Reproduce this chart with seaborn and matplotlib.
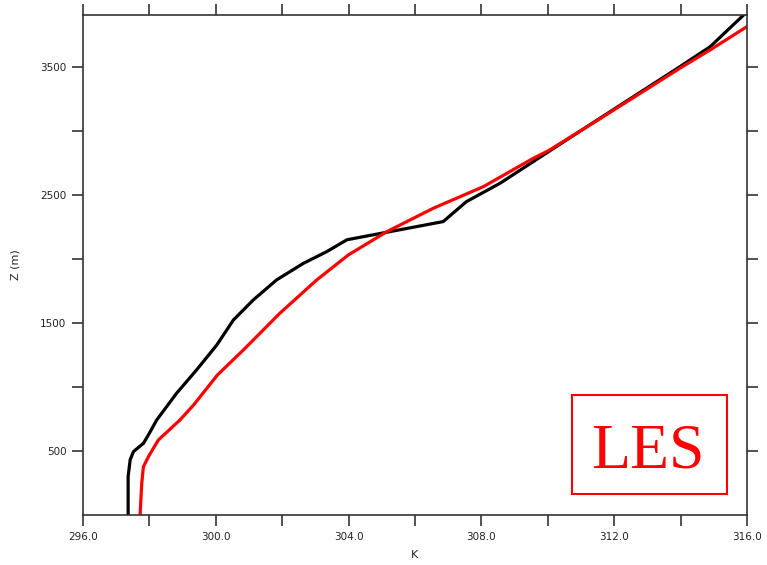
import matplotlib
matplotlib.use('Agg')
import matplotlib.pyplot as plt
import seaborn as sns
from matplotlib.patches import Rectangle

# Profiles (height in m, temperature in K)
z_black = [0, 300, 430, 495, 560, 625, 742, 951, 1133, 1328, 1523, 1680, 1836,
           1966, 2057, 2150, 2292, 2448, 2591, 2760, 2838, 3099, 3502, 3658,
           3906]
t_black = [297.36, 297.36, 297.42, 297.52, 297.82, 297.97, 298.22, 298.82,
           299.42, 300.03, 300.53, 301.13, 301.83, 302.64, 303.34, 303.95,
           306.85, 307.55, 308.56, 309.56, 310.02, 311.57, 313.98, 314.89,
           315.9]

z_red = [0, 248, 377, 455, 521, 586, 742, 859, 1094, 1289, 1576, 1836,
         2031, 2213, 2396, 2565, 2786, 2846, 3095, 3490, 3633, 3815]
t_red = [297.72, 297.77, 297.82, 297.97, 298.12, 298.27, 298.92, 299.33,
         300.05, 300.83, 301.93, 303.04, 303.99, 305.15, 306.55,
         308.06, 309.56, 310.02, 311.57, 313.98, 314.89, 316.0]

x_ticks = [296, 298, 300, 302, 304, 306, 308, 310, 312, 314, 316]
x_labels = ['296.0', '', '300.0', '', '304.0', '', '308.0', '', '312.0', '', '316.0']
y_ticks = [500, 1000, 1500, 2000, 2500, 3000, 3500]
y_labels = ['500', '', '1500', '', '2500', '', '3500']

sns.set_style('white')

fig = plt.figure(figsize=(7.67, 5.65), dpi=100)
ax = fig.add_axes([0.1082, 0.0885, 0.8657, 0.885])

sns.lineplot(x=t_black, y=z_black, sort=False, estimator=None, color='black',
             linewidth=2.3, ax=ax)
sns.lineplot(x=t_red, y=z_red, sort=False, estimator=None, color='red',
             linewidth=2.3, ax=ax)

ax.set_xlim(296, 316)
ax.set_ylim(0, 3906)
ax.set_xticks(x_ticks)
ax.set_xticklabels(x_labels)
ax.set_yticks(y_ticks)
ax.set_yticklabels(y_labels)

for s in ax.spines.values():
    s.set_visible(True)
    s.set_color('#333333')
    s.set_linewidth(1.2)

ax.tick_params(axis='both', which='both', direction='out', length=8, width=1.2,
               color='#333333', labelsize=7.5, labelcolor='#222222', pad=4,
               top=True, right=True, bottom=True, left=True,
               labeltop=False, labelright=False)

ax.set_xlabel('K', fontsize=8, color='#222222', labelpad=6)
ax.set_ylabel('Z (m)', fontsize=8, color='#222222', labelpad=14)

# LES box
ax.add_patch(Rectangle((0.7364, 0.042), 0.2336, 0.198, transform=ax.transAxes,
                       fill=False, edgecolor='red', linewidth=1.5))
ax.text(0.851, 0.094, 'LES', transform=ax.transAxes, ha='center', va='baseline',
        color='red', fontsize=46, family=['Liberation Serif', 'DejaVu Serif'])

fig.savefig('out.png', dpi=100)
